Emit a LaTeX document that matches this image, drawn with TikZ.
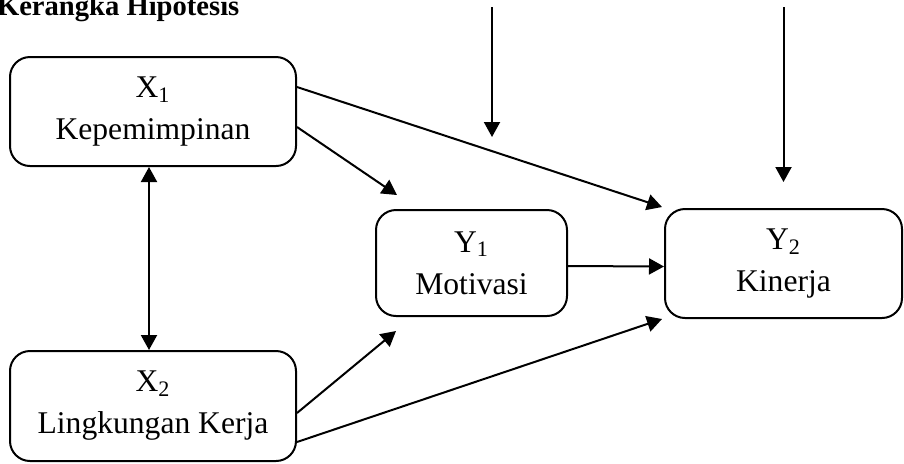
\documentclass[tikz,border=0pt]{standalone}
\usepackage{fontspec}
\setmainfont{Liberation Serif}
\usetikzlibrary{arrows.meta}

\begin{document}
\begin{tikzpicture}[x=0.5pt,y=-0.5pt,>={Triangle[length=7.5pt,width=8pt]},line width=1pt,
    box/.style={draw,rounded corners=10pt,align=center,inner sep=0pt,
      font=\fontsize{15.8}{21}\selectfont}]
    \useasboundingbox (0,0) rectangle (904,463);
    \node[anchor=base west,inner sep=0pt,font=\bfseries\fontsize{14.3}{17}\selectfont]
      (title) at (-4,15) {Kerangka Hipotesis};

    \node[box,minimum width=143pt,minimum height=54.5pt]   (X1) at (153,111.5) {X\textsubscript{1}\\Kepemimpinan};
    \node[box,minimum width=143pt,minimum height=55pt]     (X2) at (153,406)   {X\textsubscript{2}\\Lingkungan Kerja};
    \node[box,minimum width=95.5pt,minimum height=53pt]    (Y1) at (471.5,263) {Y\textsubscript{1}\\Motivasi};
    \node[box,minimum width=118.5pt,minimum height=54.5pt] (Y2) at (783.5,263.5) {Y\textsubscript{2}\\Kinerja};

    \coordinate (e1top) at (492,7);
    \coordinate (e1tip) at (492,137);
    \coordinate (e2top) at (783.5,7);
    \coordinate (e2tip) at (783.5,182);

    \draw[->] (e1top) -- (e1tip);
    \draw[->] (e2top) -- (e2tip);
    \draw[<->] ([xshift=-2pt]X1.south) -- ([xshift=-2pt]X2.north);
    \draw[->] ([yshift=12.25pt]X1.east) -- ([xshift=-1pt,yshift=0.5pt]Y2.north west);
    \draw[->] ([yshift=-7.75pt]X1.east) -- ([xshift=11pt,yshift=7pt]Y1.north west);
    \draw[->] ([yshift=-1.5pt]Y1.east) -- ([yshift=-1.5pt]Y2.west);
    \draw[->] ([yshift=-3.5pt]X2.east) -- ([xshift=10.5pt,yshift=-7pt]Y1.south west);
    \draw[->] ([yshift=-18pt]X2.east) -- ([xshift=-1pt]Y2.south west);
\end{tikzpicture}
\end{document}
